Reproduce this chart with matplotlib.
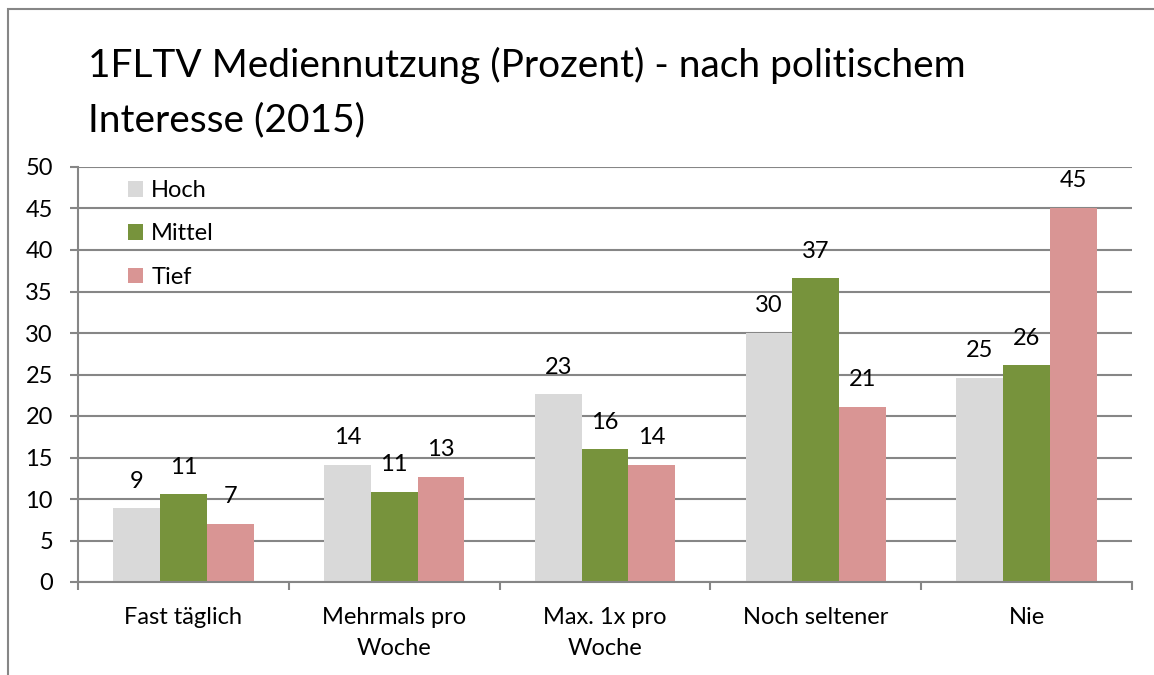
import numpy as np
import matplotlib.pyplot as plt
from matplotlib.patches import Rectangle

# Categories and values (percent)
categories = ['Fast täglich', 'Mehrmals pro\nWoche', 'Max. 1x pro\nWoche', 'Noch seltener', 'Nie']
series = ['Hoch', 'Mittel', 'Tief']
hoch = [8.9, 14.1, 22.6, 30.0, 24.6]
mittel = [10.6, 10.9, 16.0, 36.6, 26.1]
tief = [7.0, 12.7, 14.1, 21.1, 45.1]
colors = ['#D9D9D9', '#77933C', '#D99594']

plt.rcParams['font.family'] = ['Lato', 'DejaVu Sans']
grey = '#868686'
fs = 17

fig = plt.figure(figsize=(11.54, 6.75), dpi=100)
ax = fig.add_axes([78 / 1154, 93 / 675, 1054 / 1154, 415 / 675])

# outer chart border
fig.patches.append(Rectangle((8 / 1154, -0.1), 1.2, 1.0 - 9 / 675 + 0.1,
                             transform=fig.transFigure, fill=False,
                             edgecolor=grey, linewidth=1.5))

x = np.arange(len(categories))
w = 0.222
for i, (name, vals, c) in enumerate(zip(series, [hoch, mittel, tief], colors)):
    bars = ax.bar(x + (i - 1) * w, vals, w, color=c, label=name, zorder=2)
    for b, v in zip(bars, vals):
        ax.annotate(f'{v:.0f}', (b.get_x() + b.get_width() / 2, v),
                    xytext=(0, 27), textcoords='offset pixels',
                    ha='center', va='center', fontsize=fs)

ax.set_xlim(-0.5, len(categories) - 0.5)
ax.set_ylim(0, 50)
ax.set_yticks(range(0, 51, 5))
ax.yaxis.grid(True, color=grey, linewidth=1.5, zorder=0)
ax.set_axisbelow(True)

ax.set_xticks(x)
ax.set_xticklabels(categories, fontsize=fs, linespacing=1.6)
ax.set_xticks(np.arange(-0.5, len(categories), 1), minor=True)
ax.tick_params(axis='x', which='major', length=0, pad=18)
ax.tick_params(axis='x', which='minor', length=6, color=grey, width=1.5, direction='out')
ax.tick_params(axis='y', length=6, color=grey, width=1.5, pad=12, labelsize=fs)

for s in ['top', 'right']:
    ax.spines[s].set_visible(False)
for s in ['left', 'bottom']:
    ax.spines[s].set_color(grey)
    ax.spines[s].set_linewidth(1.5)

fig.text(88 / 1154, 1 - 65 / 675, '1FLTV Mediennutzung (Prozent) - nach politischem',
         fontsize=28, va='center', ha='left')
fig.text(88 / 1154, 1 - 120 / 675, 'Interesse (2015)',
         fontsize=28, va='center', ha='left')

ax.legend(loc='upper left', bbox_to_anchor=(0.027, 1.02), frameon=False,
          fontsize=fs, handlelength=0.65, handleheight=0.65,
          handletextpad=0.35, labelspacing=0.95)

fig.savefig('out.png', dpi=100)
